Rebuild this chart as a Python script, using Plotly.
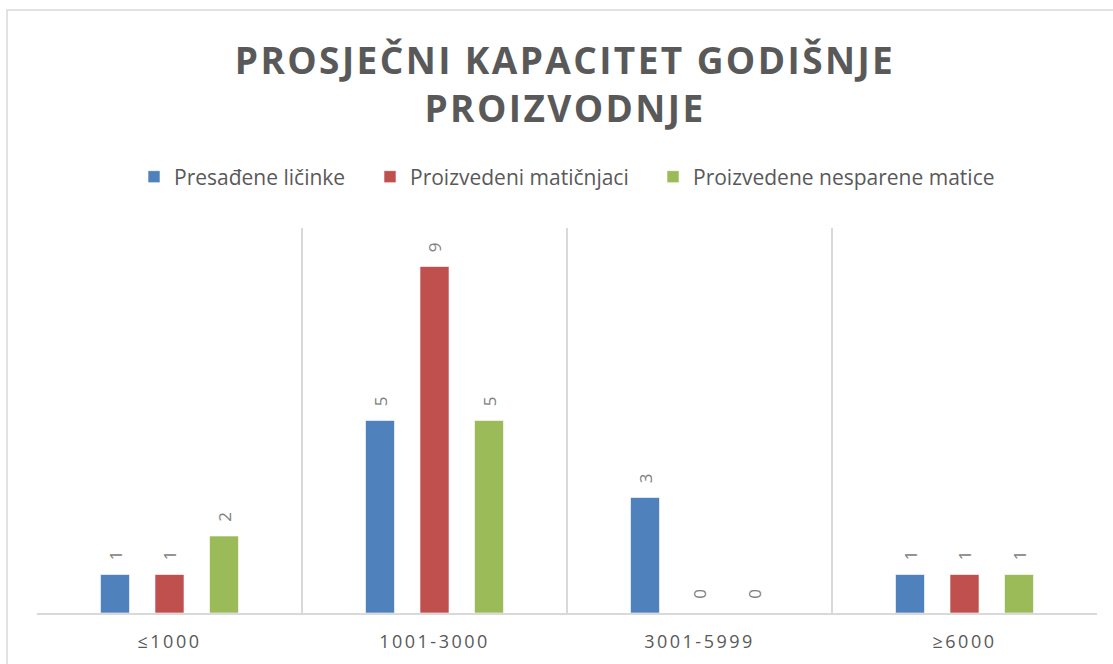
import plotly.graph_objects as go

categories = ["≤1000", "1001-3000", "3001-5999", "≥6000"]
series_names = ["Presađene ličinke", "Proizvedeni matičnjaci", "Proizvedene nesparene matice"]
presadjene = [1, 5, 3, 1]
maticnjaci = [1, 9, 0, 1]
nesparene = [2, 5, 0, 1]
colors = ["#4F81BD", "#C0504D", "#9BBB59"]

title_lines = ["PROSJEČNI KAPACITET GODIŠNJE", "PROIZVODNJE"]

# plot area in page pixels
PL, PR, PT, PB = 37, 1097, 228, 613
W, H = 1113, 664


def px_x(p):
    return (p - PL) / (PR - PL)


def px_y(p):
    return (PB - p) / (PB - PT)


legend_names = ["legend", "legend2", "legend3"]
legend_marker_px = [148, 384, 667]
LEG_OFF = 14

fig = go.Figure()
for name, vals, col, lg in zip(series_names, [presadjene, maticnjaci, nesparene], colors, legend_names):
    fig.add_trace(go.Bar(
        x=categories, y=vals, name=name, legend=lg, showlegend=True,
        marker=dict(color=col, line=dict(color="rgba(255,255,255,0.6)", width=1)),
        texttemplate="\u2002\u2009%{y}", textposition="outside", textangle=-90,
        textfont=dict(family="Open Sans", size=17, color="#808080"),
        cliponaxis=False,
    ))

title_text = "<br>".join(f'<span style="letter-spacing:2.4px">{t}</span>' for t in title_lines)
ticktext = [f'<span style="letter-spacing:2.5px">{c}</span>' for c in categories]

legend_font = dict(family="Open Sans", size=21, color="#595959")
legends = {}
for lg, mpx in zip(legend_names, legend_marker_px):
    legends[lg] = dict(orientation="h", x=px_x(mpx - LEG_OFF), xanchor="left",
                       y=px_y(177), yanchor="middle", font=legend_font,
                       bgcolor="rgba(0,0,0,0)", borderwidth=0, visible=True)

fig.update_layout(
    width=W, height=H,
    margin=dict(l=PL, r=W - PR, t=PT, b=H - PB),
    paper_bgcolor="white", plot_bgcolor="white",
    showlegend=True,
    barmode="group", bargap=0.383, bargroupgap=0.468,
    title=dict(text=f"<b>{title_text}</b>", xref="paper", x=px_x(565), xanchor="center",
               y=1 - 74 / H, yanchor="middle",
               font=dict(family="Open Sans", size=37, color="#595959")),
    xaxis=dict(type="category", tickmode="array", tickvals=categories, ticktext=ticktext,
               tickson="boundaries", showgrid=True, gridcolor="#d9d9d9", gridwidth=1.5,
               showline=True, linecolor="#d9d9d9", linewidth=1.5, ticks="",
               ticklabelstandoff=12,
               tickfont=dict(family="Open Sans", size=18, color="#595959"),
               range=[-0.5, 3.5]),
    yaxis=dict(range=[0, 10], visible=False),
    shapes=[dict(type="rect", xref="paper", yref="paper",
                 x0=px_x(7), x1=1.2, y0=-0.3, y1=px_y(10),
                 line=dict(color="#d9d9d9", width=1.5), layer="below")],
    **legends,
)

fig.write_html("out.html", config={"displayModeBar": False},
               post_script="document.body.style.margin='0';")
